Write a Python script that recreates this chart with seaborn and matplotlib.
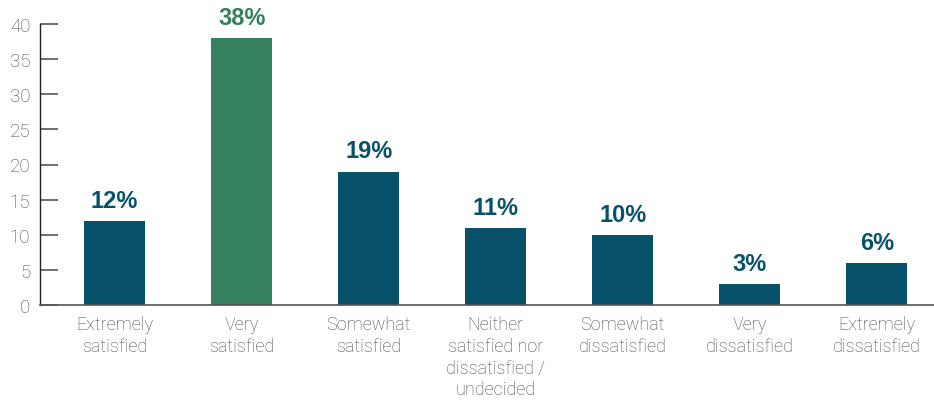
import matplotlib
matplotlib.use("Agg")
import matplotlib.pyplot as plt
import seaborn as sns
import pandas as pd

categories = ["Extremely\nsatisfied", "Very\nsatisfied", "Somewhat\nsatisfied",
              "Neither\nsatisfied nor\ndissatisfied /\nundecided", "Somewhat\ndissatisfied",
              "Very\ndissatisfied", "Extremely\ndissatisfied"]
values = [12, 38, 19, 11, 10, 3, 6]
labels = ["12%", "38%", "19%", "11%", "10%", "3%", "6%"]
yticks = [0, 5, 10, 15, 20, 25, 30, 35, 40]

teal = "#07526a"
green = "#35805f"
colors = [teal, green, teal, teal, teal, teal, teal]

sns.set_theme(style="white")
plt.rcParams['font.family'] = ['Roboto', 'DejaVu Sans']

fig = plt.figure(figsize=(9.34, 4.02), dpi=100)
ax = fig.add_axes([40/934, 96/402, 1 - 40/934, (306-25)/402])

df = pd.DataFrame({"cat": categories, "val": values})
sns.barplot(data=df, x="cat", y="val", hue="cat", palette=colors, legend=False,
            width=0.48, ax=ax, saturation=1, linewidth=0)

for i, (v, lab) in enumerate(zip(values, labels)):
    ax.text(i, v + 1.3, lab, ha="center", va="bottom", fontsize=17, fontweight="bold",
            color=colors[i], family=["Liberation Sans", "DejaVu Sans"])

ax.set_xlim(-0.587, 6.45)
ax.set_ylim(0, 40)
ax.set_yticks(yticks)
ax.set_yticklabels([str(t) for t in yticks], fontsize=13.5, color="#4a4a4a", fontweight="light")
ax.set_xticklabels(categories, fontsize=13, color="#4a4a4a", fontweight="light", linespacing=1.28)
ax.set_xlabel("")
ax.set_ylabel("")
ax.tick_params(axis="y", direction="in", length=13, width=1.2, color="#555555", pad=7, left=True)
ax.tick_params(axis="x", length=0, pad=7)
for s in ["top", "right"]:
    ax.spines[s].set_visible(False)
ax.spines["left"].set_color("#222222")
ax.spines["bottom"].set_color("#555555")
ax.spines["left"].set_linewidth(1.0)
ax.spines["bottom"].set_linewidth(1.2)
ax.set_facecolor("white")
fig.patch.set_facecolor("white")

fig.savefig("out.png", dpi=100)
